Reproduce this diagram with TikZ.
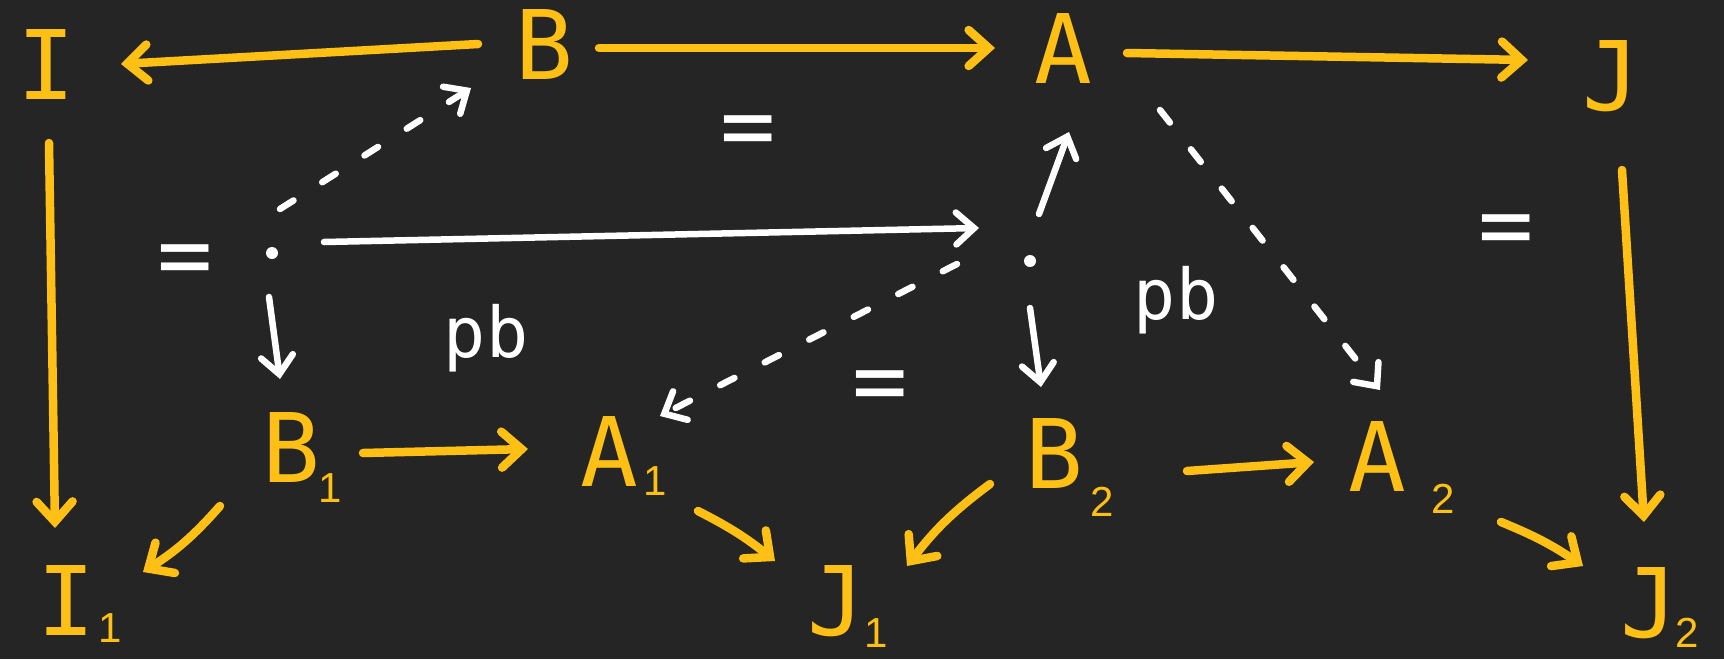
\documentclass[tikz,border=0pt]{standalone}
\usepackage{fontspec}
\newfontfamily\hand{DejaVu Sans Mono}
\newfontfamily\subf{Liberation Sans}
\usetikzlibrary{arrows.meta}
\definecolor{bg}{HTML}{252525}
\definecolor{ylw}{HTML}{FFC015}
\newcommand\sbs[3]{\rlap{\hspace{#1pt}\raisebox{#2pt}{\subf\fontsize{42}{42}\selectfont #3}}}
\begin{document}
\begin{tikzpicture}[x=1pt,y=-1pt,
  obj/.style={text=ylw, font=\hand\fontsize{96}{96}\selectfont, inner sep=0pt, text height=70pt, text depth=0pt},
  yarr/.style={draw=ylw, line width=8.5pt, line cap=round, line join=round, -{Straight Barb[length=20pt,width=36pt,line cap=round]}},
  warr/.style={draw=white, line width=6.5pt, line cap=round, line join=round, -{Straight Barb[length=18pt,width=32pt,line cap=round]}},
  dsh/.style={dash pattern=on 16pt off 34pt},
  pt/.style={circle, fill=white, minimum size=12pt, inner sep=0pt},
  eq/.style={text=white, font=\hand\fontsize{92}{92}\selectfont, inner sep=0pt},
  lbl/.style={text=white, font=\hand\fontsize{70}{70}\selectfont, inner sep=0pt}]
\fill[bg] (0,0) rectangle (1724,659);
\useasboundingbox (0,0) rectangle (1724,659);
% objects
\node[obj] (I)  at (46,64)   {I};
\node[obj] (B)  at (544,44)  {B};
\node[obj] (A)  at (1063,48) {A};
\node[obj] (J)  at (1611,75) {J};
\node[obj] (I1) at (66,600)  {I\sbs{4}{-7}{1}};
\node[obj] (B1) at (291,447) {B\sbs{-1}{-20}{1}};
\node[obj] (A1) at (609,451) {A\sbs{6}{-9}{1}};
\node[obj] (J1) at (836,600) {J\sbs{0}{-12}{1}};
\node[obj] (B2) at (1054,453){B\sbs{8}{-28}{2}};
\node[obj] (A2) at (1377,456){A\sbs{26}{-22}{2}};
\node[obj] (J2) at (1649,602){J\sbs{-2}{-10}{2}};
\node[pt] (P1) at (272,253) {};
\node[pt] (P2) at (1030,261) {};
% labels
\node[eq] (e1) at (185,266) {=};
\node[eq] (e2) at (748,137) {=};
\node[eq] (e3) at (880,392) {=};
\node[eq] (e4) at (1506,236) {=};
\node[lbl] (pb1) at (486,338) {pb};
\node[lbl] (pb2) at (1176,300) {pb};
% yellow arrows
\draw[yarr] ([shift={(-66,0)}]B.center) -- ([shift={(75,0)}]I.center);
\draw[yarr] ([shift={(55,4)}]B.center) -- ([shift={(-68,0)}]A.center);
\draw[yarr] ([shift={(64,5)}]A.center) -- ([shift={(-83,-15)}]J.center);
\draw[yarr] ([shift={(3,79)}]I.center) -- ([shift={(-11,-72)}]I1.center);
\draw[yarr] ([shift={(11,95)}]J.center) -- ([shift={(-5,-80)}]J2.center);
\draw[yarr] ([shift={(-71,59)}]B1.center) to[bend left=8] ([shift={(77,-28)}]I1.center);
\draw[yarr] ([shift={(72,6)}]B1.center) -- ([shift={(-81,-2)}]A1.center);
\draw[yarr] ([shift={(89,60)}]A1.center) to[bend left=6] ([shift={(-61,-39)}]J1.center);
\draw[yarr] ([shift={(-64,31)}]B2.center) to[bend right=8] ([shift={(71,-34)}]J1.center);
\draw[yarr] ([shift={(133,18)}]B2.center) -- ([shift={(-63,6)}]A2.center);
\draw[yarr] ([shift={(124,66)}]A2.center) to[bend left=6] ([shift={(-66,-36)}]J2.center);
% white arrows
\draw[warr,dsh] ([shift={(8,-44)}]P1.center) -- ([shift={(-73,44)}]B.center);
\draw[warr] ([shift={(52,-11)}]P1.center) -- ([shift={(-51,-33)}]P2.center);
\draw[warr] ([shift={(9,-47)}]P2.center) -- ([shift={(6,84)}]A.center);
\draw[warr] ([shift={(0,47)}]P2.center) -- ([shift={(-13,-66)}]B2.center);
\draw[warr,dsh] ([shift={(-73,3)}]P2.center) -- ([shift={(51,-35)}]A1.center);
\draw[warr] ([shift={(-3,44)}]P1.center) -- ([shift={(-11,-68)}]B1.center);
\draw[warr,dsh] ([shift={(97,62)}]A.center) -- ([shift={(3,-66)}]A2.center);
\end{tikzpicture}
\end{document}
